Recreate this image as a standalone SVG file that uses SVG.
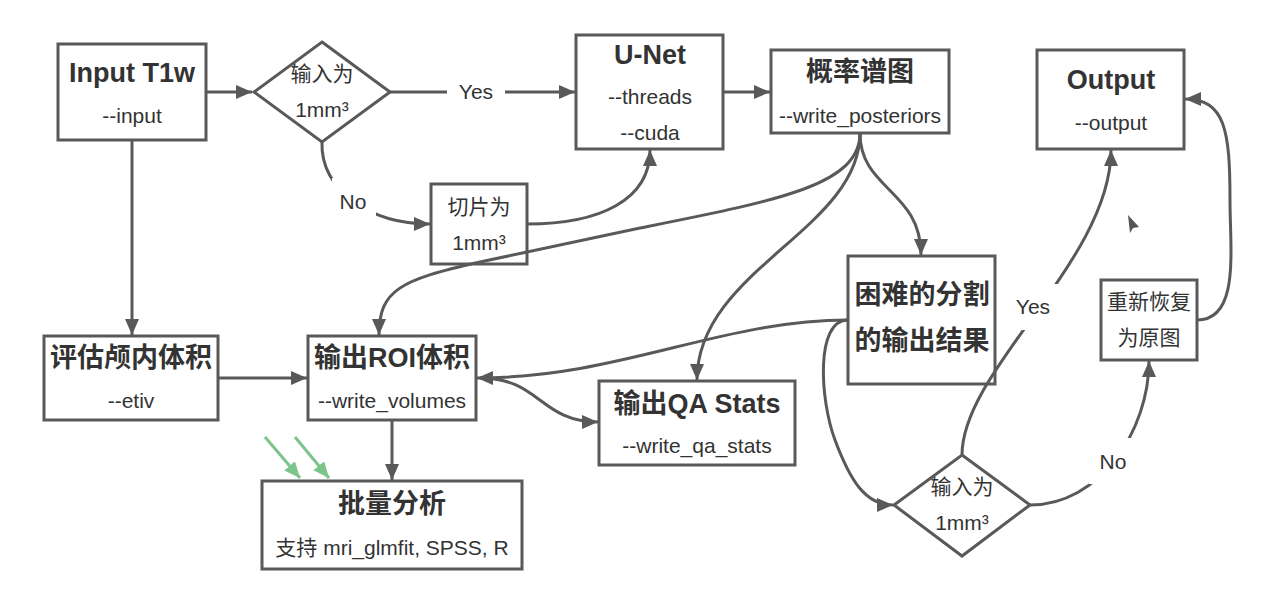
<svg xmlns="http://www.w3.org/2000/svg" width="1287" height="604" viewBox="0 0 1287 604">
<style>
.box{fill:#fff;stroke:#595959;stroke-width:3}
.t{font-family:"Liberation Sans","Noto Sans CJK SC",sans-serif;fill:#333;text-anchor:middle;dominant-baseline:central}
.b{font-size:27px;font-weight:bold}
.r{font-size:21px}
.e{fill:none;stroke:#595959;stroke-width:3}
.g{fill:none;stroke:#7cc48a;stroke-width:3}
.lb{fill:#fff}
</style>
<defs>
<marker id="ah" markerUnits="userSpaceOnUse" markerWidth="17" markerHeight="15" refX="16" refY="7" orient="auto"><path d="M0,0 L16,7 L0,14 z" fill="#595959"/></marker>
<marker id="gh" markerUnits="userSpaceOnUse" markerWidth="17" markerHeight="15" refX="16" refY="7" orient="auto"><path d="M0,0 L16,7 L0,14 z" fill="#7cc48a"/></marker>
</defs>
<rect width="1287" height="604" fill="#fff"/>
<g id="input">
<rect class="box" x="58" y="44" width="148" height="96"/>
<text class="t b" x="132" y="73">Input T1w</text>
<text class="t r" x="132" y="115">--input</text>
</g>
<g id="decision1">
<polygon class="box" points="322,42 390,92 322,142 254,92"/>
<text class="t r" x="322" y="73">输入为</text>
<text class="t r" x="322" y="109">1mm³</text>
</g>
<g id="unet">
<rect class="box" x="576" y="35" width="147" height="114"/>
<text class="t b" x="650" y="55">U-Net</text>
<text class="t r" x="650" y="96">--threads</text>
<text class="t r" x="650" y="132">--cuda</text>
</g>
<g id="posteriors">
<rect class="box" x="771" y="50" width="178" height="83"/>
<text class="t b" x="860" y="72">概率谱图</text>
<text class="t r" x="860" y="115">--write_posteriors</text>
</g>
<g id="output">
<rect class="box" x="1037" y="50" width="147" height="99"/>
<text class="t b" x="1111" y="80">Output</text>
<text class="t r" x="1111" y="122">--output</text>
</g>
<g id="slice">
<rect class="box" x="431" y="184" width="96" height="80"/>
<text class="t r" x="479" y="206">切片为</text>
<text class="t r" x="479" y="242">1mm³</text>
</g>
<g id="etiv">
<rect class="box" x="44" y="336" width="174" height="84"/>
<text class="t b" x="131" y="358">评估颅内体积</text>
<text class="t r" x="131" y="400">--etiv</text>
</g>
<g id="roi">
<rect class="box" x="308" y="336" width="168" height="84"/>
<text class="t b" x="392" y="358">输出ROI体积</text>
<text class="t r" x="392" y="400">--write_volumes</text>
</g>
<g id="qa">
<rect class="box" x="599" y="381" width="196" height="84"/>
<text class="t b" x="697" y="404">输出QA Stats</text>
<text class="t r" x="697" y="445">--write_qa_stats</text>
</g>
<g id="hard">
<rect class="box" x="848" y="256" width="147" height="128"/>
<text class="t b" x="922" y="295">困难的分割</text>
<text class="t b" x="922" y="341">的输出结果</text>
</g>
<g id="restore">
<rect class="box" x="1101" y="280" width="96" height="80"/>
<text class="t r" x="1149" y="301">重新恢复</text>
<text class="t r" x="1149" y="337">为原图</text>
</g>
<g id="decision2">
<polygon class="box" points="962,455 1030,505 962,556 894,505"/>
<text class="t r" x="962" y="486">输入为</text>
<text class="t r" x="962" y="522">1mm³</text>
</g>
<g id="batch">
<rect class="box" x="262" y="481" width="260" height="88"/>
<text class="t b" x="392" y="504">批量分析</text>
<text class="t r" x="392" y="547">支持 mri_glmfit, SPSS, R</text>
</g>
<g id="connectors">
<path class="e" d="M206,92 L252,92" marker-end="url(#ah)"/>
<path class="e" d="M390,92 L575,92" marker-end="url(#ah)"/>
<path class="e" d="M322,142 C320,190 370,224 430,224" marker-end="url(#ah)"/>
<path class="e" d="M527,224 C600,224 650,200 650,150" marker-end="url(#ah)"/>
<path class="e" d="M723,92 L770,92" marker-end="url(#ah)"/>
<path class="e" d="M860,133 C860,185 780,200 640,228 L480,262 C400,280 379,290 379,335" marker-end="url(#ah)"/>
<path class="e" d="M860,133 C860,230 697,270 697,380" marker-end="url(#ah)"/>
<path class="e" d="M860,133 C860,190 921,190 921,255" marker-end="url(#ah)"/>
<path class="e" d="M848,320 C720,320 620,378 477,378" marker-end="url(#ah)"/>
<path class="e" d="M480,378 C540,378 540,422 598,422" marker-end="url(#ah)"/>
<path class="e" d="M848,320 C815,320 820,400 835,440 C850,480 865,505 893,505" marker-end="url(#ah)"/>
<path class="e" d="M962,455 C962,370 1111,260 1111,150" marker-end="url(#ah)"/>
<path class="e" d="M1030,505 C1100,505 1149,430 1149,361" marker-end="url(#ah)"/>
<path class="e" d="M1197,320 C1240,320 1230,250 1230,200 C1230,130 1225,99 1185,99" marker-end="url(#ah)"/>
<path class="e" d="M132,140 L132,335" marker-end="url(#ah)"/>
<path class="e" d="M218,378 L307,378" marker-end="url(#ah)"/>
<path class="e" d="M392,420 L392,480" marker-end="url(#ah)"/>
<path class="g" d="M265,437 L300,478" marker-end="url(#gh)"/>
<path class="g" d="M295,437 L329,478" marker-end="url(#gh)"/>
<rect class="lb" x="447" y="78" width="58" height="28"/>
<text class="t r" x="476" y="91">Yes</text>
<rect class="lb" x="332" y="178" width="44" height="40"/>
<text class="t r" x="353" y="201">No</text>
<rect class="lb" x="1008" y="284" width="52" height="46"/>
<text class="t r" x="1033" y="306">Yes</text>
<rect class="lb" x="1089" y="438" width="46" height="46"/>
<text class="t r" x="1113" y="461">No</text>
</g>
<polygon points="1128,215 1139,227 1133,228 1130,233" fill="#555"/>
</svg>
